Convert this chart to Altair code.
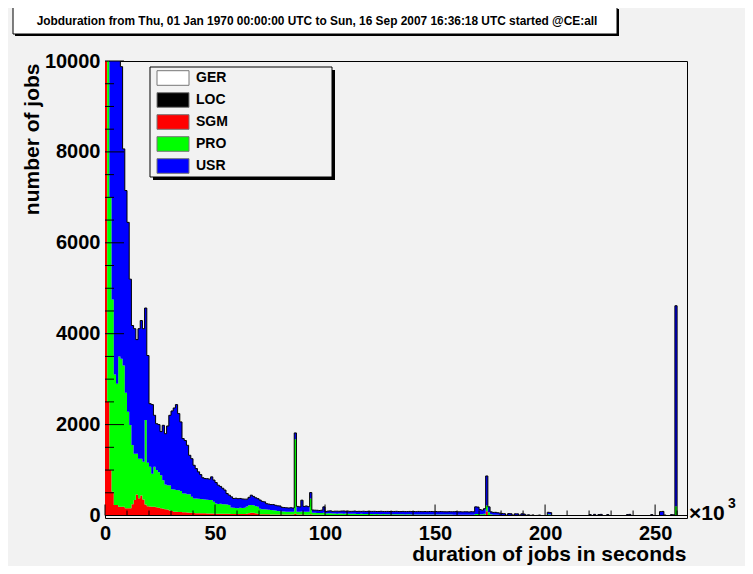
import altair as alt
import pandas as pd

TITLE = "Jobduration from Thu, 01 Jan 1970 00:00:00 UTC to Sun, 16 Sep 2007 16:36:18 UTC started @CE:all"
SERIES = ["GER", "LOC", "SGM", "PRO", "USR"]
COLORS = ["#ffffff", "#000000", "#ff0000", "#00ff00", "#0000ff"]
BIN_WIDTH = 1.0  # in units of 10^3 seconds

SGM = [
    12000, 2500, 1000, 520, 230, 230, 190, 190, 190, 160,
    160, 160, 250, 340, 460, 380, 440, 350, 240, 205,
    200, 190, 190, 180, 170, 160, 150, 140, 130, 110,
    100, 80, 80, 75, 75, 70, 70, 65, 60, 60,
    55, 50, 50, 50, 50, 50, 45, 45, 45, 45,
    40, 40, 40, 40, 40, 40, 40, 35, 35, 35,
    35, 35, 35, 35, 40, 50, 60, 60, 50, 40,
    30, 30, 25, 25, 25, 20, 20, 20, 20, 20,
    20, 20, 20, 20, 20, 20, 40, 20, 20, 20,
    20, 15, 15, 30, 15, 15, 15, 15, 15, 15,
    10, 10, 12, 10, 8, 10, 10, 8, 10, 10,
    8, 8, 10, 8, 8, 6, 8, 8, 6, 6,
    6, 6, 5, 6, 5, 5, 6, 5, 5, 5,
    5, 5, 5, 5, 4, 5, 4, 4, 5, 4,
    4, 4, 4, 4, 4, 4, 4, 4, 4, 4,
    4, 4, 3, 4, 3, 3, 4, 3, 3, 3,
    3, 3, 3, 3, 3, 3, 3, 3, 5, 5,
    5, 5, 10, 95, 10, 5, 3, 3, 3, 2,
    2, 2, 2, 2, 2, 2, 2, 2, 2, 2,
    2, 2, 0, 0, 0, 0, 0, 0, 0, 0,
    0, 5, 5, 0, 0, 0, 0, 0, 0, 0,
    0, 0, 0, 0, 0, 0, 0, 0, 0, 0,
    0, 0, 0, 0, 0, 0, 0, 0, 0, 0,
    0, 0, 0, 0, 0, 0, 0, 0, 0, 0,
    0, 0, 0, 0, 0, 0, 0, 0, 0, 0,
    0, 0, 0, 0, 0, 0, 0, 0, 0, 0,
    0, 0, 0, 0, 0,
]

PRO = [
    0, 10500, 6000, 4230, 2870, 2670, 3310, 3260, 3110, 2540,
    2120, 1830, 1300, 1020, 900, 870, 810, 830, 1860, 955,
    870, 730, 880, 820, 780, 726, 626, 540, 537, 550,
    478, 490, 480, 482, 465, 413, 413, 405, 410, 350,
    319, 324, 320, 315, 310, 300, 300, 295, 295, 255,
    224, 215, 220, 210, 205, 200, 190, 140, 135, 130,
    125, 135, 130, 135, 160, 177, 170, 167, 160, 150,
    120, 110, 110, 105, 100, 100, 95, 90, 80, 75,
    70, 70, 65, 65, 65, 60, 1637, 65, 60, 70,
    65, 65, 65, 344, 45, 45, 40, 40, 40, 45,
    35, 38, 35, 32, 35, 30, 33, 35, 30, 32,
    30, 28, 30, 30, 27, 28, 30, 26, 28, 27,
    25, 26, 25, 27, 24, 25, 25, 24, 23, 25,
    22, 24, 22, 20, 22, 21, 20, 22, 20, 20,
    20, 19, 20, 18, 20, 19, 18, 20, 18, 18,
    18, 17, 18, 16, 17, 18, 16, 17, 16, 16,
    16, 15, 16, 15, 16, 15, 15, 16, 30, 30,
    25, 25, 30, 125, 60, 20, 15, 15, 12, 10,
    8, 8, 6, 8, 6, 6, 5, 6, 5, 5,
    5, 4, 0, 3, 0, 0, 2, 0, 0, 0,
    0, 20, 18, 0, 0, 0, 0, 0, 0, 0,
    0, 0, 0, 0, 0, 0, 0, 0, 0, 0,
    0, 0, 0, 0, 0, 0, 0, 0, 0, 0,
    0, 0, 0, 0, 0, 0, 0, 0, 0, 0,
    0, 0, 0, 0, 0, 0, 0, 0, 0, 0,
    0, 0, 10, 10, 0, 0, 0, 0, 0, 205,
    0, 0, 0, 0, 0,
]

USR = [
    0, 0, 9000, 10250, 10900, 10100, 7500, 6425, 4766, 4450,
    4170, 3210, 2630, 2750, 2510, 2860, 3040, 2930, 2465, 2360,
    1390, 1520, 1135, 1020, 1050, 960, 1209, 1120, 1303, 1545,
    1722, 1796, 1880, 1685, 1519, 1209, 1167, 1075, 855, 840,
    731, 659, 590, 535, 470, 463, 465, 460, 510, 480,
    461, 412, 380, 350, 315, 243, 217, 235, 204, 215,
    210, 205, 200, 190, 160, 173, 217, 193, 180, 180,
    190, 170, 165, 130, 125, 120, 125, 115, 113, 115,
    90, 85, 85, 80, 85, 85, 140, 115, 110, 247,
    115, 130, 115, 131, 60, 57, 60, 55, 62, 130,
    45, 50, 55, 48, 52, 55, 50, 55, 60, 52,
    58, 55, 52, 60, 55, 58, 52, 60, 55, 58,
    60, 58, 62, 55, 60, 63, 58, 60, 62, 58,
    62, 60, 65, 62, 60, 64, 62, 60, 65, 62,
    64, 62, 66, 64, 60, 65, 62, 64, 66, 62,
    65, 62, 66, 64, 62, 60, 65, 62, 64, 66,
    62, 65, 60, 64, 62, 60, 66, 62, 155, 150,
    100, 87, 110, 650, 120, 55, 50, 52, 45, 40,
    35, 30, 0, 32, 30, 0, 30, 28, 0, 30,
    25, 0, 15, 0, 12, 0, 0, 10, 0, 0,
    0, 46, 40, 0, 0, 0, 0, 0, 0, 0,
    0, 0, 0, 0, 0, 0, 0, 0, 0, 0,
    20, 0, 25, 0, 20, 25, 0, 0, 20, 0,
    0, 0, 0, 0, 0, 0, 0, 20, 25, 0,
    0, 0, 0, 0, 0, 0, 0, 0, 20, 0,
    0, 0, 75, 80, 10, 0, 0, 20, 15, 4410,
    0, 0, 0, 0, 0,
]

Y_TICKS = [0, 2000, 4000, 6000, 8000, 10000]
Y_MINOR = [v for v in range(0, 10001, 500) if v not in Y_TICKS]
X_TICKS = [0, 50, 100, 150, 200, 250]
X_MINOR = [v for v in range(10, 261, 10) if v not in X_TICKS]

X_MAX = 264.5
Y_MIN, Y_MAX = -55, 10000
W, H = 582, 457
FONT = "Liberation Sans"

rows = []
for name, vals, o in (("SGM", SGM, 0), ("PRO", PRO, 1), ("USR", USR, 2)):
    for i, v in enumerate(vals):
        rows.append({"x": i * BIN_WIDTH, "v": v, "series": name, "ord": o})
    rows.append({"x": len(vals) * BIN_WIDTH, "v": vals[-1], "series": name, "ord": o})
df = pd.DataFrame(rows)

xscale = alt.Scale(domain=[0, X_MAX], nice=False, zero=False)
yscale = alt.Scale(domain=[Y_MIN, Y_MAX], nice=False, zero=False)

hist = alt.Chart(df).mark_area(interpolate="step-after", clip=True).encode(
    x=alt.X("x:Q", scale=xscale,
            axis=alt.Axis(values=X_TICKS, ticks=False, domain=False, grid=False,
                          format="d",
                          labelFont=FONT, labelFontSize=20, labelFontWeight="bold",
                          labelColor="black", labelPadding=5, labelFlush=False,
                          title="duration of jobs in seconds", titleFont=FONT,
                          titleFontSize=21, titleFontWeight="bold", titleColor="black",
                          titleX=581, titleY=42, titleAlign="right",
                          titleBaseline="alphabetic")),
    y=alt.Y("v:Q", stack="zero", scale=yscale,
            axis=alt.Axis(values=Y_TICKS, ticks=False, domain=False, grid=False,
                          format="d",
                          labelFont=FONT, labelFontSize=20, labelFontWeight="bold",
                          labelColor="black", labelPadding=5, labelFlush=False,
                          title="number of jobs", titleFont=FONT, titleFontSize=21,
                          titleFontWeight="bold", titleColor="black",
                          titleX=-67, titleY=2, titleAlign="right",
                          titleBaseline="alphabetic")),
    color=alt.Color("series:N", scale=alt.Scale(domain=SERIES, range=COLORS),
                    legend=None),
    order=alt.Order("ord:Q"),
)

outline = alt.Chart(df).transform_aggregate(
    total="sum(v)", groupby=["x"]
).mark_line(interpolate="step-after", color="black", strokeWidth=1, clip=True).encode(
    x=alt.X("x:Q", scale=xscale),
    y=alt.Y("total:Q", scale=yscale),
)

zero_line = alt.Chart(pd.DataFrame({"z": [0]})).mark_rule(color="black", strokeWidth=1).encode(
    y=alt.Y("z:Q", scale=yscale), x=alt.value(0), x2=alt.value(W)
)

ymaj = alt.Chart(pd.DataFrame({"t": Y_TICKS})).mark_rule(color="black", strokeWidth=1).encode(
    y=alt.Y("t:Q", scale=yscale), x=alt.value(0), x2=alt.value(19)
)
ymin = alt.Chart(pd.DataFrame({"t": Y_MINOR})).mark_rule(color="black", strokeWidth=1).encode(
    y=alt.Y("t:Q", scale=yscale), x=alt.value(0), x2=alt.value(9)
)
y0px = H * (Y_MAX - 0) / (Y_MAX - Y_MIN)
xmaj = alt.Chart(pd.DataFrame({"t": X_TICKS})).mark_rule(color="black", strokeWidth=1).encode(
    x=alt.X("t:Q", scale=xscale), y=alt.value(y0px), y2=alt.value(y0px - 11)
)
xmin = alt.Chart(pd.DataFrame({"t": X_MINOR})).mark_rule(color="black", strokeWidth=1).encode(
    x=alt.X("t:Q", scale=xscale), y=alt.value(y0px), y2=alt.value(y0px - 5)
)

one = pd.DataFrame({"a": [0]})
leg_shadow = alt.Chart(one).mark_rect(fill="black").encode(
    x=alt.value(48), x2=alt.value(230), y=alt.value(9), y2=alt.value(119))
leg_box = alt.Chart(one).mark_rect(fill="#f2f2f2", stroke="black", strokeWidth=1).encode(
    x=alt.value(45), x2=alt.value(227), y=alt.value(6), y2=alt.value(116))

legend_layers = []
for i, (name, col) in enumerate(zip(SERIES, COLORS)):
    top = 9.7 + 22 * i
    legend_layers.append(
        alt.Chart(one).mark_rect(fill=col, stroke="#777777", strokeWidth=1).encode(
            x=alt.value(52), x2=alt.value(84), y=alt.value(top), y2=alt.value(top + 14.6)))
    legend_layers.append(
        alt.Chart(pd.DataFrame({"t": [name]})).mark_text(
            font=FONT, fontSize=14, fontWeight="bold", color="black", align="left",
            baseline="middle").encode(x=alt.value(91), y=alt.value(top + 7.6), text="t:N"))

title_shadow = alt.Chart(one).mark_rect(fill="black").encode(
    x=alt.value(-90), x2=alt.value(514), y=alt.value(-52), y2=alt.value(-25))
title_box = alt.Chart(one).mark_rect(fill="white", stroke="black", strokeWidth=1).encode(
    x=alt.value(-92), x2=alt.value(512), y=alt.value(-54), y2=alt.value(-27))
title_text = alt.Chart(pd.DataFrame({"t": [TITLE]})).mark_text(
    font=FONT, fontSize=11.9, fontWeight="bold", color="black", align="center",
    baseline="alphabetic").encode(x=alt.value(212), y=alt.value(-36), text="t:N")

exp_text = alt.Chart(pd.DataFrame({"t": ["×10"]})).mark_text(
    font=FONT, fontSize=21, fontWeight="bold", color="black", align="left",
    baseline="alphabetic").encode(x=alt.value(584), y=alt.value(459), text="t:N")
exp_sup = alt.Chart(pd.DataFrame({"t": ["3"]})).mark_text(
    font=FONT, fontSize=14, fontWeight="bold", color="black", align="left",
    baseline="alphabetic").encode(x=alt.value(623), y=alt.value(447), text="t:N")

chart = alt.layer(
    hist, outline, zero_line, ymaj, ymin, xmaj, xmin,
    leg_shadow, leg_box, *legend_layers,
    title_shadow, title_box, title_text, exp_text, exp_sup,
).properties(
    width=W, height=H,
    autosize=alt.AutoSizeParams(type="none"),
    padding={"left": 97, "top": 53, "right": 58, "bottom": 48},
    background="#f2f2f2",
).configure_view(stroke="black", strokeWidth=1, fill=None)

chart.save("out.html", embed_options={"renderer": "svg", "actions": False})
